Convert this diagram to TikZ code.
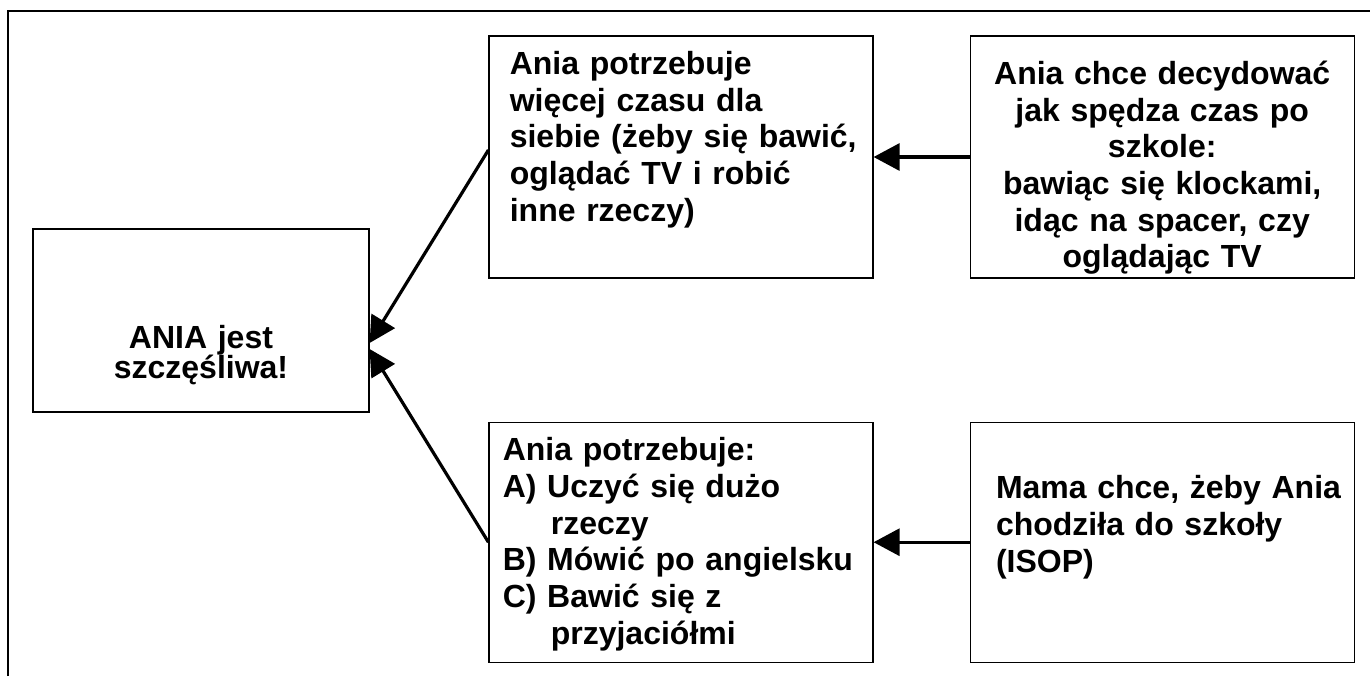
\documentclass[tikz,border=0pt]{standalone}
\usepackage{fontspec}
\setmainfont{Liberation Sans}
\usetikzlibrary{positioning,arrows.meta}

\newcommand\tightlines{\lineskiplimit=-20pt\relax}

\begin{document}
\begin{tikzpicture}[>={Triangle[length=13pt,width=13.5pt]},
	box/.style={draw,line width=0.6pt,minimum width=192pt,minimum height=121pt},
	txt/.style={inner sep=0pt,text width=#1,font=\fontsize{16pt}{18.35pt}\selectfont\bfseries},
	txt/.default=180pt,
	tight/.style={font=\fontsize{16pt}{15pt}\selectfont\bfseries\tightlines},
	link/.style={->,line width=1.6pt}]

\useasboundingbox (0,0) rectangle (685pt,-338pt);
\draw [line width=1pt] (4pt,-338pt) |- (685pt,-5.5pt);

\node [box,minimum width=168pt,minimum height=91.5pt] (happy) at (100.5pt,-160.25pt) {};
\node [box] (needTime) at (340.5pt,-78.5pt) {};
\node [box] (wantChoose) [right=48pt of needTime] {};
\node [box,minimum height=120pt] (needLearn) [below=71.5pt of needTime] {};
\node [box,minimum height=120pt] (momSchool) [right=48pt of needLearn] {};

\node [txt=160pt,tight,align=center] (happyText) [below=60pt of happy.north,anchor=base] {ANIA jest\\szczęśliwa!};
\node [txt=178pt,align=left] (needTimeText) [below right=19.5pt and 10.5pt of needTime.north west,anchor=base west]
	{Ania potrzebuje\\więcej czasu dla\\siebie (żeby się bawić,\\oglądać TV i robić\\inne rzeczy)};
\node [txt=190pt,align=center] (wantChooseText) [below=24.5pt of wantChoose.north,anchor=base]
	{Ania chce decydować\\jak spędza czas po\\szkole:\\bawiąc się klockami,\\idąc na spacer, czy\\oglądając TV};
\node [txt,align=left] (needLearnText) [below right=19.5pt and 7pt of needLearn.north west,anchor=base west]
	{Ania potrzebuje:\\A) Uczyć się dużo\\\hspace*{24pt}rzeczy\\B) Mówić po angielsku\\C) Bawić się z\\\hspace*{24pt}przyjaciółmi};
\node [txt=175pt,align=left] (momSchoolText) [below right=38.5pt and 13pt of momSchool.north west,anchor=base west]
	{Mama chce, żeby Ania\\chodziła do szkoły\\(ISOP)};

\path [link]
	(wantChoose) edge (needTime)
	(momSchool) edge (needLearn)
	([yshift=3.5pt]needTime.west) edge ([yshift=-11.25pt]happy.east)
	(needLearn.west) edge ([yshift=-14.25pt]happy.east)
;

\end{tikzpicture}
\end{document}
